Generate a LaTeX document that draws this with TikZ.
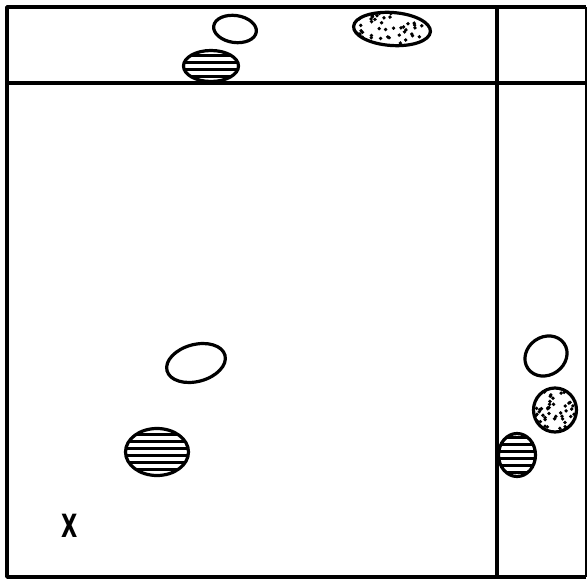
\documentclass[tikz,border=0pt]{standalone}
\usepackage{fontspec}
\usepackage{tikz}
\usetikzlibrary{shapes.geometric}
\newfontfamily\markfont{DejaVu Sans}

\begin{document}
\begin{tikzpicture}[
  x=1pt, y=-1pt,
  frameline/.style={line width=3.6pt},
  spot/.style={ellipse,draw=black,line width=3.2pt,inner sep=0pt},
  clear/.style={spot,fill=white},
  hatched/.style={spot,fill=black,
    path picture={\foreach \k in {-28,-21,...,28}
      \draw[white,line width=3.4pt]
        ([xshift=-50pt,yshift=\k pt]path picture bounding box.center) -- ++(100,0);}},
  stippled/.style 2 args={spot,fill=white,
    path picture={\foreach \i in {1,...,48}
      \fill[black] (path picture bounding box.center) ++({rand*#1},{rand*#2})
        circle[radius=1.9pt];}},
  originmark/.style={font=\markfont\bfseries\fontsize{32}{32}\selectfont,
                     xscale=0.66,inner sep=0pt}]

\useasboundingbox (0,0) rectangle (588,580);
\pgfmathsetseed{4217}

% ============ Frame and dividing lines ============
\coordinate (tl) at (7,7);
\coordinate (tr) at (586,7);
\coordinate (bl) at (7,577);
\coordinate (br) at (586,577);
\draw[frameline,line join=round] (tr) -- (tl) -- (bl) -- (br);
\draw[line width=1.4pt] (tr) -- (br);
\coordinate (hl) at (7,83);
\coordinate (hr) at (586,83);
\coordinate (vt) at (497,7);
\coordinate (vb) at (497,577);
\draw[frameline] (hl) -- (hr);
\draw[frameline] (vt) -- (vb);

% ============ Top strip ============
\node[clear,minimum width=43pt,minimum height=27pt,rotate=-8] (topclear) at (235,29) {};
\node[hatched,minimum width=55pt,minimum height=31pt] (tophatch) at (211,66) {};
\node[stippled={36}{15},minimum width=77pt,minimum height=33pt,rotate=-4] (topdots) at (392,29) {};

% ============ Main area ============
\node[clear,minimum width=60pt,minimum height=37pt,rotate=15] (midclear) at (196,363) {};
\node[hatched,minimum width=63pt,minimum height=47pt] (midhatch) at (157,452) {};
\node[originmark] (origin) at (70,526) {X};

% ============ Right strip ============
\node[clear,minimum width=44pt,minimum height=38pt,rotate=35] (rclear) at (546,356) {};
\node[stippled={19}{19},minimum width=43pt,minimum height=44pt] (rdots) at (555,410) {};
\node[hatched,minimum width=37pt,minimum height=43pt] (rhatch) at (517,455) {};

\end{tikzpicture}
\end{document}
